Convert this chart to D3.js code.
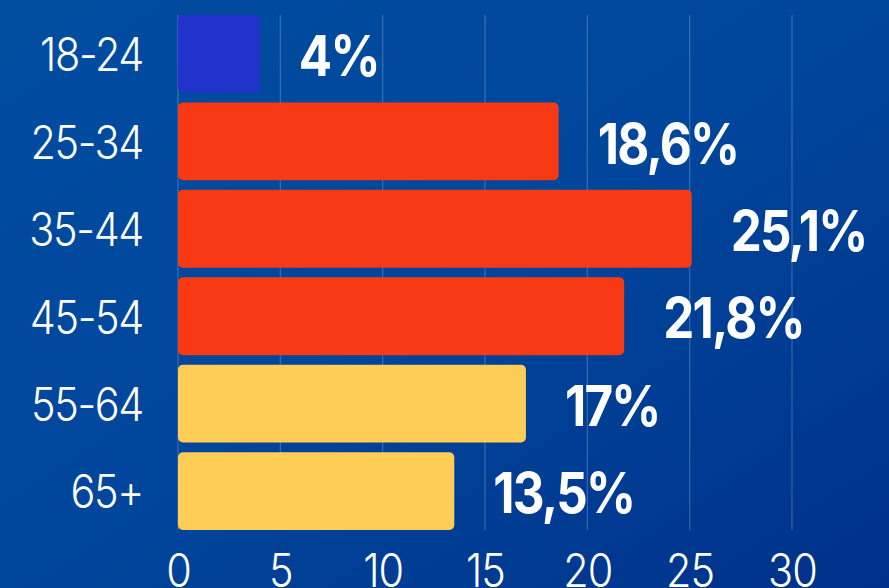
<!DOCTYPE html>
<html><head><meta charset="utf-8">
<script src="https://cdn.jsdelivr.net/npm/d3@7"></script>
<style>html,body{margin:0;padding:0;overflow:hidden;background:#00449a}</style>
</head><body>
<script>
const categories = ["18-24","25-34","35-44","45-54","55-64","65+"];
const values = [4, 18.6, 25.1, 21.8, 17, 13.5];
const valueLabels = ["4%","18,6%","25,1%","21,8%","17%","13,5%"];
const tickValues = [0,5,10,15,20,25,30];
const colors = ["#2233cc","#f73a14","#f73a14","#f73a14","#ffcc55","#ffcc55"];

const W=889,H=588;
const svg=d3.select("body").append("svg").attr("width",W).attr("height",H);
const defs=svg.append("defs");
const g=defs.append("linearGradient").attr("id","bg").attr("x1","0").attr("y1","0").attr("x2","1").attr("y2","1");
g.append("stop").attr("offset","0").attr("stop-color","#004da0");
g.append("stop").attr("offset","0.5").attr("stop-color","#00469c");
g.append("stop").attr("offset","1").attr("stop-color","#00318a");
svg.append("rect").attr("width",W).attr("height",H).attr("fill","url(#bg)");

const x=d3.scaleLinear().domain([0,30]).range([178,792]);
const y=d3.scaleBand().domain(categories).range([15,530]).paddingInner(0.11).paddingOuter(0);

// gridlines
svg.append("g").selectAll("line").data(tickValues).join("line")
  .attr("x1",d=>x(d)).attr("x2",d=>x(d)).attr("y1",15).attr("y2",530)
  .attr("stroke","rgba(255,255,255,0.22)").attr("stroke-width",1.2);

// bars
svg.append("g").selectAll("rect").data(categories).join("rect")
  .attr("x",x(0)).attr("y",d=>y(d))
  .attr("width",(d,i)=>x(values[i])-x(0)).attr("height",y.bandwidth())
  .attr("rx",5).attr("fill",(d,i)=>colors[i]);

// category labels
svg.append("g").selectAll("text").data(categories).join("text")
  .attr("transform",d=>`translate(143,${y(d)+y.bandwidth()/2+1}) scale(0.9,1)`)
  .attr("text-anchor","end").attr("dominant-baseline","central")
  .attr("font-family","Inter").attr("font-weight",300).attr("font-size",46)
  .attr("letter-spacing",-1.5)
  .attr("fill","#fff").text(d=>d);

// value labels
svg.append("g").selectAll("text").data(categories).join("text")
  .attr("transform",(d,i)=>`translate(${x(values[i])+39},${y(d)+y.bandwidth()/2+2}) scale(0.88,1)`)
  .attr("text-anchor","start").attr("dominant-baseline","central")
  .attr("font-family","Inter").attr("font-weight",700).attr("font-size",56)
  .attr("letter-spacing",-2)
  .attr("fill","#fff").text((d,i)=>valueLabels[i]);

// x axis
const axis=d3.axisBottom(x).tickValues(tickValues).tickSize(0).tickFormat(d3.format("d"));
const ax=svg.append("g").call(axis);
ax.select(".domain").remove();
ax.selectAll("text").attr("y",null).attr("dy",null)
  .attr("transform","translate(0,587) scale(0.9,1)")
  .attr("font-family","Inter").attr("font-weight",300).attr("font-size",46)
  .attr("letter-spacing",-1)
  .attr("fill","#fff");
</script>
</body></html>
